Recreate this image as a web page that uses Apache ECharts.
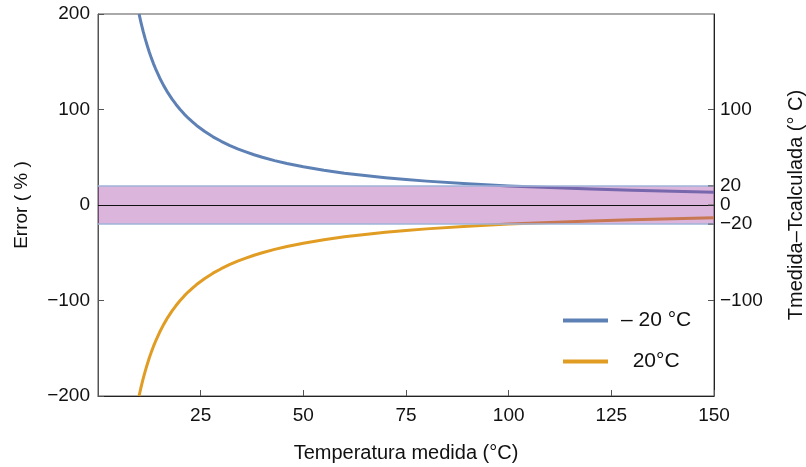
<!DOCTYPE html>
<html><head><meta charset="utf-8">
<script src="https://cdn.jsdelivr.net/npm/echarts@6/dist/echarts.min.js"></script>
<style>html,body{margin:0;padding:0;background:#fff;overflow:hidden}#c{width:806px;height:467px}</style>
</head><body><div id="c"></div>
<script>
// Data
const temps = [10, 10.5, 11, 11.5, 12, 12.5, 13, 13.5, 14, 15, 16, 17, 18, 19, 20, 21, 22, 23, 24, 26, 28, 30, 32, 34, 36, 38, 40, 43, 46, 50, 55, 60, 65, 70, 75, 80, 90, 100, 110, 120, 130, 140, 150];
const errMinus20 = [200, 190.5, 181.8, 173.9, 166.7, 160, 153.8, 148.1, 142.9, 133.3, 125, 117.6, 111.1, 105.3, 100, 95.2, 90.9, 87, 83.3, 76.9, 71.4, 66.7, 62.5, 58.8, 55.6, 52.6, 50, 46.5, 43.5, 40, 36.4, 33.3, 30.8, 28.6, 26.7, 25, 22.2, 20, 18.2, 16.7, 15.4, 14.3, 13.3];
const errPlus20 = [-200, -190.5, -181.8, -173.9, -166.7, -160, -153.8, -148.1, -142.9, -133.3, -125, -117.6, -111.1, -105.3, -100, -95.2, -90.9, -87, -83.3, -76.9, -71.4, -66.7, -62.5, -58.8, -55.6, -52.6, -50, -46.5, -43.5, -40, -36.4, -33.3, -30.8, -28.6, -26.7, -25, -22.2, -20, -18.2, -16.7, -15.4, -14.3, -13.3];
const seriesNames = ['\u2013 20 \u00b0C', '  20\u00b0C'];
const bandLimits = [-20, 20];
const rightTicks = [100, 20, 0, -20, -100];
const xTicks = [25, 50, 75, 100, 125, 150];

const FONT = 'Liberation Sans, Arial, sans-serif';
const fmt = v => String(v).replace('-', '\u2212');
const chart = echarts.init(document.getElementById('c'), null, {renderer: 'canvas', width: 806, height: 467});
const pairs = arr => temps.map((t, i) => [t, arr[i]]);
const xMax = 150;

chart.setOption({
  animation: false,
  backgroundColor: '#fff',
  textStyle: {fontFamily: FONT},
  grid: {left: 98, right: 92, top: 14, bottom: 71, show: true, borderColor: '#555', borderWidth: 1,
         containLabel: false, outerBoundsMode: 'none'},
  legend: {
    data: seriesNames,
    orient: 'vertical',
    left: 558, top: 305,
    icon: 'rect', itemWidth: 45, itemHeight: 4, itemGap: 20,
    textStyle: {fontSize: 21, color: '#111', fontFamily: FONT, padding: [0, 0, 0, 8]}
  },
  xAxis: {
    type: 'value', min: 0, max: 150, interval: 25,
    axisLine: {onZero: false, lineStyle: {color: '#222'}},
    axisTick: {inside: true, length: 6, lineStyle: {color: '#555'}},
    splitLine: {show: false},
    axisLabel: {fontSize: 19, color: '#111', margin: 10, formatter: v => (xTicks.includes(v) ? fmt(v) : '')},
    name: 'Temperatura medida (\u00b0C)', nameLocation: 'middle', nameGap: 47,
    nameTextStyle: {fontSize: 20, color: '#111'}
  },
  yAxis: [{
    type: 'value', min: -200, max: 200, interval: 100,
    axisLine: {show: true, onZero: false, lineStyle: {color: '#555'}},
    axisTick: {inside: true, length: 6, lineStyle: {color: '#555'}},
    splitLine: {show: false},
    axisLabel: {fontSize: 19, color: '#111', margin: 8, formatter: v => fmt(v)},
    name: 'Error ( % )', nameLocation: 'middle', nameGap: 67, nameRotate: 90,
    nameTextStyle: {fontSize: 19, color: '#111'}
  }, {
    type: 'value', min: -200, max: 200, interval: 20, position: 'right',
    axisLine: {show: true, onZero: false, lineStyle: {color: '#222'}},
    axisTick: {show: false},
    splitLine: {show: false},
    axisLabel: {fontSize: 19, color: '#111', margin: 6, formatter: v => (rightTicks.includes(v) ? fmt(v) : '')},
    name: 'Tmedida\u2013Tcalculada (\u00b0 C)', nameLocation: 'middle', nameGap: 72, nameRotate: 90,
    nameTextStyle: {fontSize: 20, color: '#111'}
  }],
  series: [
    {name: seriesNames[0], type: 'line', data: pairs(errMinus20), smooth: false, showSymbol: false, symbol: 'none',
     lineStyle: {color: '#5E81B5', width: 3, join: 'round'}, itemStyle: {color: '#5E81B5'}, z: 2},
    {name: seriesNames[1], type: 'line', data: pairs(errPlus20), smooth: false, showSymbol: false, symbol: 'none',
     lineStyle: {color: '#E19C24', width: 3, join: 'round'}, itemStyle: {color: '#E19C24'}, z: 2},
    {type: 'line', data: [], z: 4,
     markArea: {silent: true, z: 4, itemStyle: {color: 'rgba(160,60,160,0.38)'},
       data: [[{xAxis: 0, yAxis: bandLimits[0]}, {xAxis: xMax, yAxis: bandLimits[1]}]]},
     markLine: {silent: true, symbol: 'none', z: 5, label: {show: false},
       data: [
         {yAxis: bandLimits[0], lineStyle: {color: '#9fb3d9', width: 1.5, type: 'solid'}},
         {yAxis: bandLimits[1], lineStyle: {color: '#9fb3d9', width: 1.5, type: 'solid'}},
         {yAxis: 0, lineStyle: {color: '#111', width: 1, type: 'solid'}}
       ]}
    },
    {type: 'custom', yAxisIndex: 1, z: 6, silent: true,
     data: rightTicks.map(v => [xMax, v]),
     renderItem: (params, api) => {
       const p = api.coord([api.value(0), api.value(1)]);
       return {type: 'line', shape: {x1: p[0] - 6, y1: p[1], x2: p[0], y2: p[1]}, style: {stroke: '#555', lineWidth: 1}};
     }}
  ]
});
</script></body></html>
